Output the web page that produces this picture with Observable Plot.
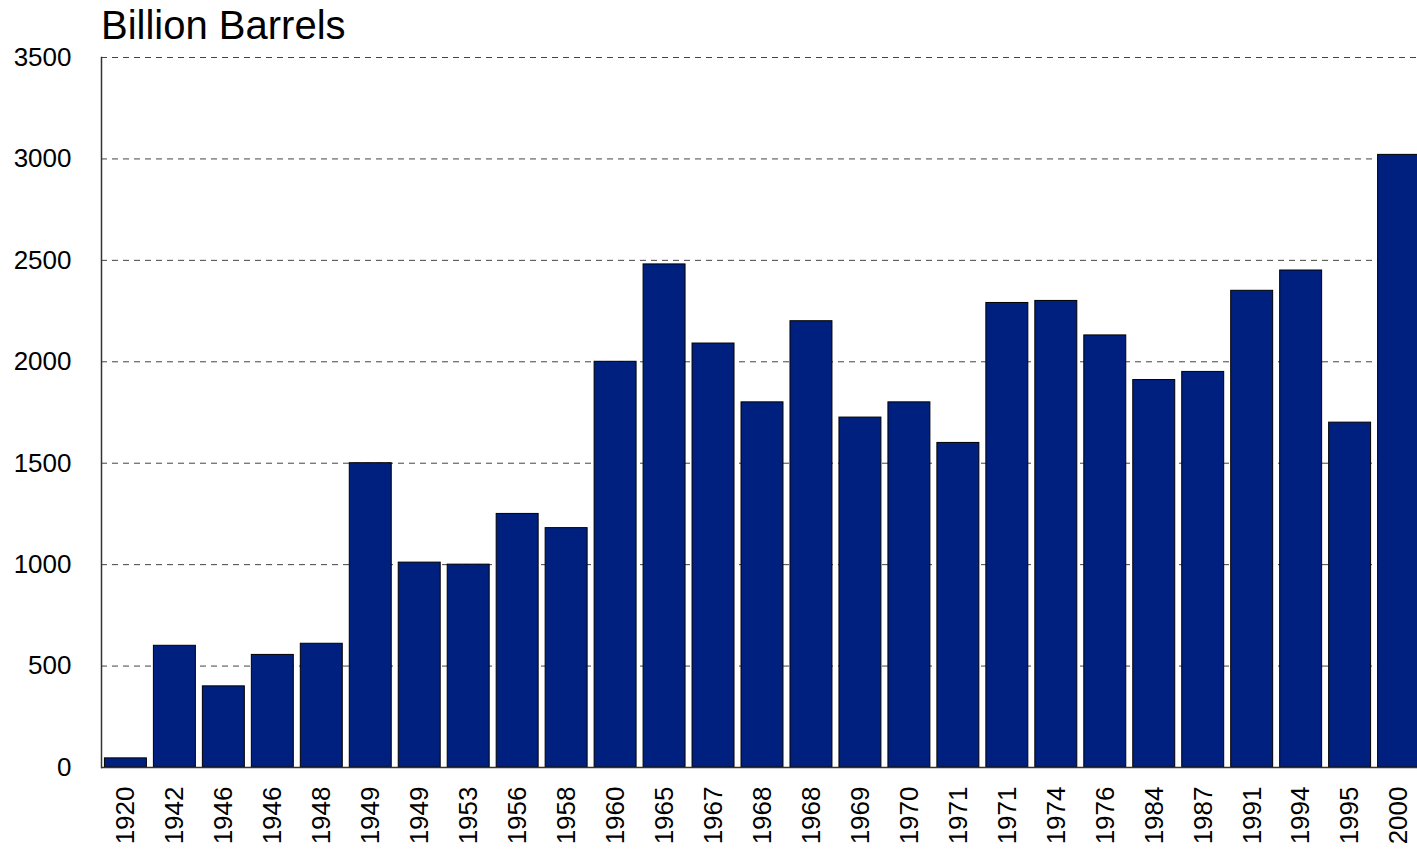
<!DOCTYPE html>
<html>
<head>
<meta charset="utf-8">
<script src="https://cdn.jsdelivr.net/npm/d3@7"></script>
<script src="https://cdn.jsdelivr.net/npm/@observablehq/plot@0.6"></script>
<style>
  html, body { margin: 0; padding: 0; background: #fff; overflow: hidden; width: 1417px; height: 849px; }
  body { font-family: "Liberation Sans", Arial, sans-serif; position: relative; }
  #title { position: absolute; left: 101px; top: 5px; font-size: 40px; line-height: 40px; color: #000; white-space: nowrap; }
  #chart { position: absolute; left: 0; top: 46px; width: 1423px; }
  #chart svg { max-width: none !important; }
</style>
</head>
<body>
<div id="title">Billion Barrels</div>
<div id="chart"></div>
<script>
const years = ["1920","1942","1946","1946","1948","1949","1949","1953","1956","1958","1960","1965","1967","1968","1968","1969","1970","1971","1971","1974","1976","1984","1987","1991","1994","1995","2000"];
const values = [45,600,400,555,610,1500,1010,1000,1250,1180,2000,2480,2090,1800,2200,1725,1800,1600,2290,2300,2130,1910,1950,2350,2450,1700,3020];
const yTicks = [0,500,1000,1500,2000,2500,3000,3500];

const data = years.map((y, i) => ({key: i, year: y, value: values[i]}));

const chart = Plot.plot({
  width: 1423,
  height: 803,
  marginLeft: 101,
  marginRight: 0,
  marginTop: 11,
  marginBottom: 82,
  style: {fontFamily: "Liberation Sans, Arial, sans-serif", fontSize: "26px", color: "#000", background: "#fff", overflow: "visible", maxWidth: "none"},
  x: {domain: data.map(d => d.key), paddingInner: 0.143, paddingOuter: 0.07, round: false, label: null},
  y: {domain: [0, 3500], label: null},
  marks: [
    Plot.ruleY(yTicks.slice(1), {stroke: "#444", strokeWidth: 1, strokeDasharray: "6,5"}),
    Plot.barY(data, {x: "key", y: "value", fill: "#00207f", stroke: "#000", strokeWidth: 1}),
    Plot.ruleY([0], {stroke: "#333", strokeWidth: 1.5}),
    Plot.frame({anchor: "left", stroke: "#333", strokeWidth: 1.5}),
    Plot.axisY({ticks: yTicks, tickSize: 0, tickPadding: 30, fontSize: 26, label: null, tickFormat: d => String(d)}),
    Plot.axisX({tickSize: 0, tickPadding: 19, tickRotate: -90, fontSize: 26, label: null, tickFormat: i => years[i]})
  ]
});
document.getElementById("chart").appendChild(chart);
</script>
</body>
</html>
